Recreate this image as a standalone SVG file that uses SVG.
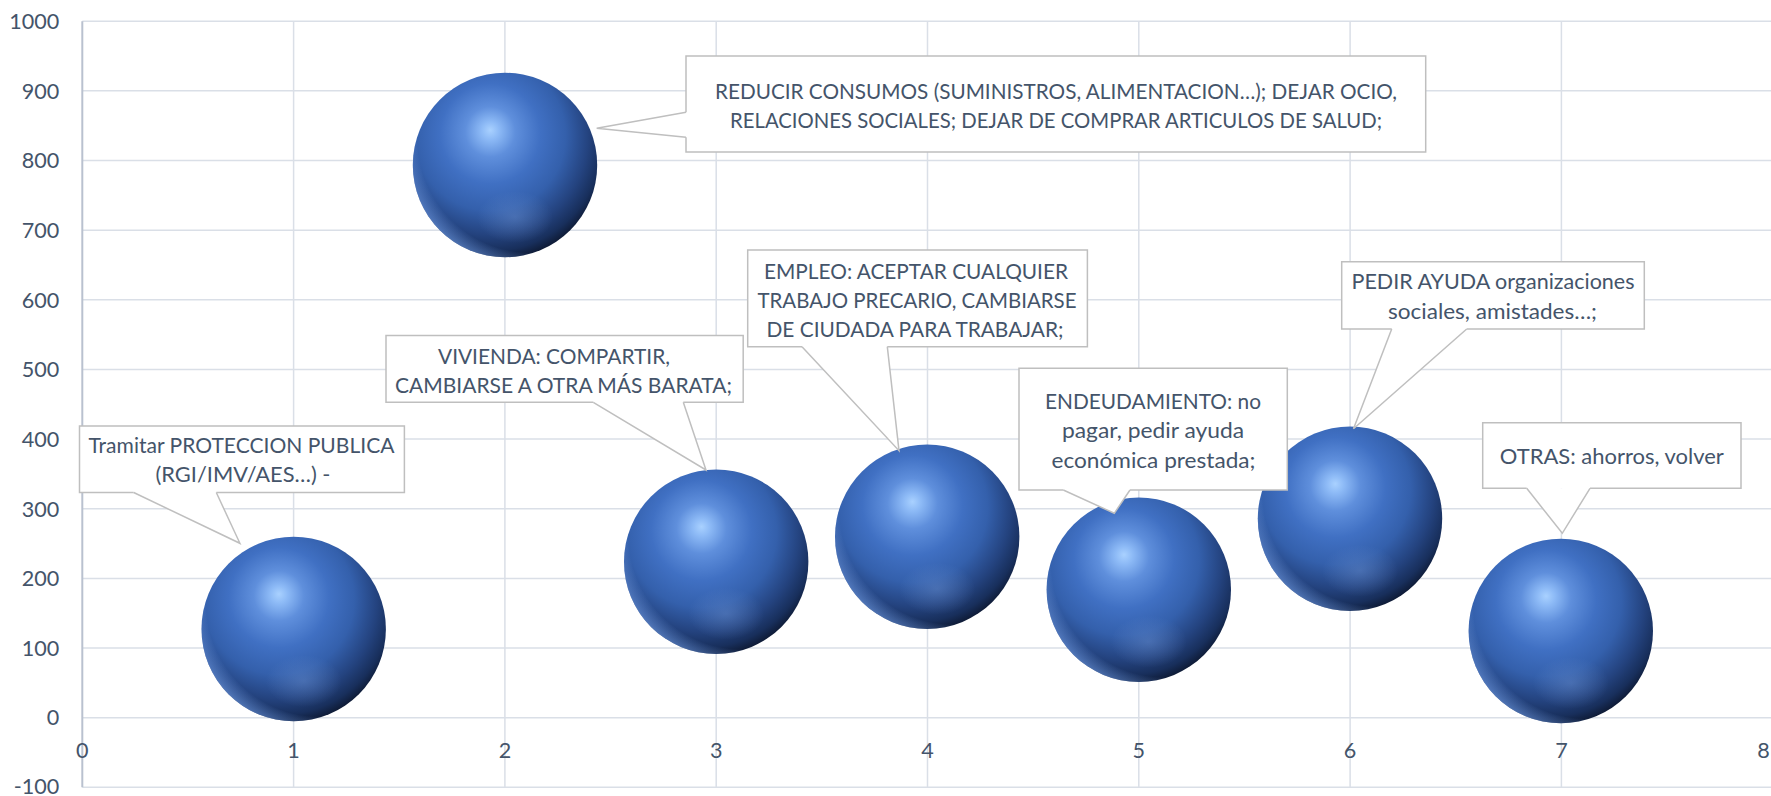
<svg xmlns="http://www.w3.org/2000/svg" xmlns:xlink="http://www.w3.org/1999/xlink" width="1771" height="796" viewBox="0 0 1771 796">
<style>
.grid{stroke:#dadfe7;stroke-width:1.5;fill:none}
.axis{stroke:#b9c1cf;stroke-width:2;fill:none}
.ax{font-family:Lato,"Liberation Sans",sans-serif;font-size:21.6px;fill:#44546A}
.t{font-family:Lato,"Liberation Sans",sans-serif;font-size:21.6px;fill:#44546A;text-anchor:middle}
.box{fill:#ffffff;stroke:#bfbfbf;stroke-width:1.5}
.ptr{fill:#ffffff;stroke:#bfbfbf;stroke-width:1.5;stroke-linejoin:miter}
</style>
<defs>
<radialGradient id="sph" cx="0.42" cy="0.36" r="0.68" fx="0.42" fy="0.31">
<stop offset="0" stop-color="#a9d1ff"/>
<stop offset="0.07" stop-color="#8dbaf6"/>
<stop offset="0.2" stop-color="#5f8fdc"/>
<stop offset="0.4" stop-color="#4070c3"/>
<stop offset="0.6" stop-color="#3460ac"/>
<stop offset="0.78" stop-color="#24437f"/>
<stop offset="0.9" stop-color="#182f5c"/>
<stop offset="1" stop-color="#0b1429"/>
</radialGradient>
<radialGradient id="rim" cx="0.64" cy="0.36" r="0.74">
<stop offset="0" stop-color="#78a5f0" stop-opacity="0"/>
<stop offset="0.83" stop-color="#78a5f0" stop-opacity="0"/>
<stop offset="0.93" stop-color="#6e9be6" stop-opacity="0.55"/>
<stop offset="1" stop-color="#8fb6f5" stop-opacity="0.85"/>
</radialGradient>
<radialGradient id="glow" cx="0.5" cy="0.5" r="0.5">
<stop offset="0" stop-color="#7096d6" stop-opacity="0.4"/>
<stop offset="1" stop-color="#7096d6" stop-opacity="0"/>
</radialGradient>
<g id="sphere">
<circle r="92.2" fill="url(#sph)"/>
<circle r="92.2" fill="url(#rim)"/>
<ellipse cx="10" cy="52" rx="38" ry="26" fill="url(#glow)"/>
</g>
</defs>
<rect width="1771" height="796" fill="#ffffff"/>
<g id="axes">
<g class="grid">
<path d="M82.3,21.2H1771M82.3,90.85H1771M82.3,160.5H1771M82.3,230.15H1771M82.3,299.8H1771M82.3,369.45H1771M82.3,439.1H1771M82.3,508.75H1771M82.3,578.4H1771M82.3,648.05H1771M82.3,717.7H1771M82.3,787.35H1771"/>
<path d="M293.6,21.2V787.35M504.9,21.2V787.35M716.2,21.2V787.35M927.5,21.2V787.35M1138.8,21.2V787.35M1350.1,21.2V787.35M1561.4,21.2V787.35"/>
</g>
<path class="axis" d="M82.3,21.2V787.35"/>
<g class="ax" text-anchor="end">
<text x="59.3" y="28.9">1000</text>
<text x="59.3" y="98.6">900</text>
<text x="59.3" y="168.2">800</text>
<text x="59.3" y="237.9">700</text>
<text x="59.3" y="307.5">600</text>
<text x="59.3" y="377.2">500</text>
<text x="59.3" y="446.8">400</text>
<text x="59.3" y="516.5">300</text>
<text x="59.3" y="586.1">200</text>
<text x="59.3" y="655.8">100</text>
<text x="59.3" y="725.4">0</text>
<text x="59.3" y="793.5">-100</text>
</g>
<g class="ax" text-anchor="middle">
<text x="82.3" y="758.3">0</text>
<text x="293.6" y="758.3">1</text>
<text x="504.9" y="758.3">2</text>
<text x="716.2" y="758.3">3</text>
<text x="927.5" y="758.3">4</text>
<text x="1138.8" y="758.3">5</text>
<text x="1350.1" y="758.3">6</text>
<text x="1561.4" y="758.3">7</text>
<text x="1763.5" y="758.3">8</text>
</g>
</g>
<g id="bubbles">
<g id="bubble-1" transform="translate(293.7,629)"><use xlink:href="#sphere" href="#sphere"/></g>
<g id="bubble-2" transform="translate(505,165)"><use xlink:href="#sphere" href="#sphere"/></g>
<g id="bubble-3" transform="translate(716.2,561.7)"><use xlink:href="#sphere" href="#sphere"/></g>
<g id="bubble-4" transform="translate(927.2,536.7)"><use xlink:href="#sphere" href="#sphere"/></g>
<g id="bubble-5" transform="translate(1138.8,589.7)"><use xlink:href="#sphere" href="#sphere"/></g>
<g id="bubble-6" transform="translate(1350,518.8)"><use xlink:href="#sphere" href="#sphere"/></g>
<g id="bubble-7" transform="translate(1560.8,631)"><use xlink:href="#sphere" href="#sphere"/></g>
</g>
<g id="labels">
<g id="label-1">
<path class="box" d="M216.3,492.5H404.4V426H79.5V492.5H133.7"/>
<text class="t" x="241.5" y="453" textLength="306" lengthAdjust="spacingAndGlyphs">Tramitar PROTECCION PUBLICA</text>
<text class="t" x="243" y="482.3" textLength="175" lengthAdjust="spacingAndGlyphs">(RGI/IMV/AES…) -</text>
</g>
<g id="label-2">
<path class="box" d="M686,137.3V152H1425.7V56H686V112.3"/>
<text class="t" x="1056" y="99" textLength="682" lengthAdjust="spacingAndGlyphs">REDUCIR CONSUMOS (SUMINISTROS, ALIMENTACION…); DEJAR OCIO,</text>
<text class="t" x="1056" y="128.3" textLength="652" lengthAdjust="spacingAndGlyphs">RELACIONES SOCIALES; DEJAR DE COMPRAR ARTICULOS DE SALUD;</text>
</g>
<g id="label-3">
<path class="box" d="M683.3,402.3H743.2V335.6H386V402.3H593.3"/>
<text class="t" x="554" y="363.5" textLength="232" lengthAdjust="spacingAndGlyphs">VIVIENDA: COMPARTIR,</text>
<text class="t" x="563.5" y="392.8" textLength="337" lengthAdjust="spacingAndGlyphs">CAMBIARSE A OTRA MÁS BARATA;</text>
</g>
<g id="label-4">
<path class="box" d="M887.3,346.7H1087.4V250H747.7V346.7H802"/>
<text class="t" x="916" y="278.5" textLength="304" lengthAdjust="spacingAndGlyphs">EMPLEO: ACEPTAR CUALQUIER</text>
<text class="t" x="917" y="307.6" textLength="319" lengthAdjust="spacingAndGlyphs">TRABAJO PRECARIO, CAMBIARSE</text>
<text class="t" x="915" y="336.7" textLength="297" lengthAdjust="spacingAndGlyphs">DE CIUDADA PARA TRABAJAR;</text>
</g>
<g id="label-5">
<path class="box" d="M1130,490H1287.3V368.3H1019V490H1063.3"/>
<text class="t" x="1153" y="409" textLength="216" lengthAdjust="spacingAndGlyphs">ENDEUDAMIENTO: no</text>
<text class="t" x="1153" y="438.3" textLength="182" lengthAdjust="spacingAndGlyphs">pagar, pedir ayuda</text>
<text class="t" x="1153.5" y="467.6" textLength="204" lengthAdjust="spacingAndGlyphs">económica prestada;</text>
</g>
<g id="label-6">
<path class="box" d="M1466.7,329H1644.3V261.7H1341.7V329H1391.7"/>
<text class="t" x="1493" y="289.3" textLength="283" lengthAdjust="spacingAndGlyphs">PEDIR AYUDA organizaciones</text>
<text class="t" x="1492.5" y="318.5" textLength="209" lengthAdjust="spacingAndGlyphs">sociales, amistades…;</text>
</g>
<g id="label-7">
<path class="box" d="M1590,488.3H1741V422.7H1482.7V488.3H1526.7"/>
<text class="t" x="1611.8" y="463.5" textLength="224" lengthAdjust="spacingAndGlyphs">OTRAS: ahorros, volver</text>
</g>
</g>
<g id="connectors">
<path class="ptr" d="M133.7,492.5L239.9,543.3L216.3,492.5"/>
<path class="ptr" d="M686,112.3L596.7,128.3L686,137.3"/>
<path class="ptr" d="M593.3,402.3L706,470L683.3,402.3"/>
<path class="ptr" d="M802,346.7L899,450.7L887.3,346.7"/>
<path class="ptr" d="M1063.3,490L1114.3,513.3L1130,490"/>
<path class="ptr" d="M1391.7,329L1353.5,428.8L1466.7,329"/>
<path class="ptr" d="M1526.7,488.3L1562.3,533.3L1590,488.3"/>
</g>
</svg>
